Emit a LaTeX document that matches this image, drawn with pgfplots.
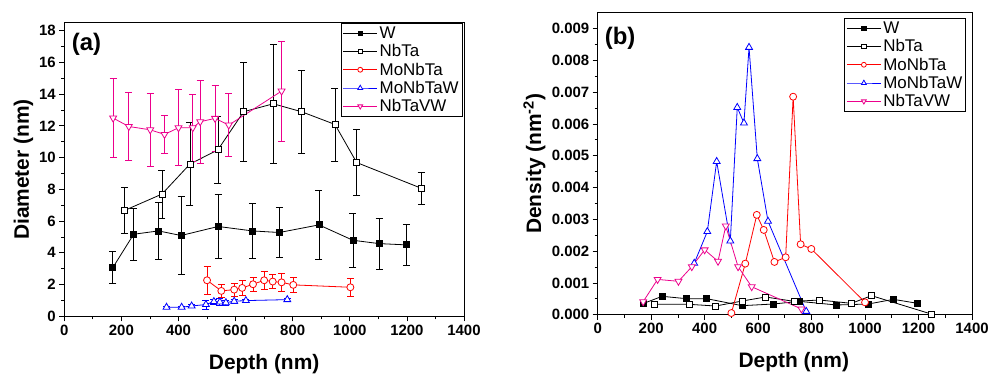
\documentclass[border=0pt]{standalone}
\usepackage{fontspec}
\setmainfont{Liberation Sans}
\usepackage{pgfplots}
\pgfplotsset{compat=1.18}
\pgfplotsset{
 common/.style={
  scale only axis,
  axis line style={line width=0.9bp},
  tick align=outside,
  xtick pos=bottom, ytick pos=left,
  major tick length=5bp, minor tick length=3bp,
  every tick/.style={black, line width=0.8bp},
  minor x tick num=1, minor y tick num=1,
  xmin=0, xmax=1400, xtick={0,200,...,1400},
  xticklabel style={/pgf/number format/set thousands separator={}},
  tick label style={font=\fontsize{15}{15}\selectfont\bfseries},
  /pgf/number format/assume math mode=true,
  label style={font=\fontsize{21}{21}\selectfont\bfseries},
  legend style={font=\fontsize{17}{19.5}\selectfont, draw=black, line width=1bp, inner sep=1.5bp, row sep=0.5bp, cells={anchor=west}},
  legend cell align=left,
  legend image code/.code={\draw[mark repeat=2,mark phase=2,#1, every mark/.append style={scale=0.7}] plot coordinates {(0cm,0cm) (0.6cm,0cm) (1.2cm,0cm)};},
 },
 sW/.style={black, line width=0.8bp, mark=square*, mark size=3bp, mark options={solid, fill=black}},
 sNbTa/.style={black, line width=0.8bp, mark=square*, mark size=3bp, mark options={solid, fill=white}},
 sMoNbTa/.style={red, line width=0.8bp, mark=*, mark size=3.5bp, mark options={solid, fill=white}},
 sMoNbTaW/.style={blue, line width=0.8bp, mark=triangle*, mark size=4bp, mark options={solid, fill=white}},
 sNbTaVW/.style={magenta, line width=0.8bp, mark=triangle*, mark size=4bp, mark options={solid, fill=white, rotate=180}},
 eb/.style={error bars/.cd, y dir=both, y explicit, error mark options={rotate=90, mark size=3.5bp, line width=0.8bp}, error bar style={line width=0.8bp}},
}
\begin{document}
\begin{tikzpicture}
\useasboundingbox (0,0) rectangle (997bp,374bp);
% ---------------- (a) ----------------
\begin{axis}[common,
  at={(64.3bp,57.7bp)}, anchor=south west,
  width=399.7bp, height=293.6bp,
  ymin=0, ymax=18.5, ytick={0,2,...,18},
  xlabel={Depth (nm)}, ylabel={Diameter (nm)},
  xlabel style={at={(axis description cs:0.5,-0.18)}, anchor=base},
  ylabel style={at={(axis description cs:-0.102,0.5)}, anchor=center},
  legend style={at={(0.9967,0.999)}, anchor=north east},
]
\addplot[sW, eb] coordinates {
 (170,3.07) +- (0,1.0)
 (243,5.17) +- (0,1.65)
 (330,5.38) +- (0,1.8)
 (409,5.09) +- (0,2.45)
 (539,5.66) +- (0,2.0)
 (659,5.38) +- (0,1.75)
 (753,5.28) +- (0,1.6)
 (892,5.76) +- (0,2.15)
 (1011,4.79) +- (0,1.7)
 (1103,4.58) +- (0,1.6)
 (1198,4.50) +- (0,1.3)
};
\addlegendentry{W}
\addplot[sNbTa, eb] coordinates {
 (211,6.67) +- (0,1.43)
 (342,7.70) +- (0,1.5)
 (440,9.59) +- (0,2.6)
 (538,10.49) +- (0,2.1)
 (628,12.89) +- (0,3.1)
 (732,13.39) +- (0,3.75)
 (831,12.89) +- (0,2.6)
 (948,12.09) +- (0,2.3)
 (1024,9.69) +- (0,2.1)
 (1250,8.07) +- (0,1.0)
};
\addlegendentry{NbTa}
\addplot[sMoNbTa, eb] coordinates {
 (500,2.27) +- (0,0.87)
 (550,1.60) +- (0,0.41)
 (595,1.68) +- (0,0.40)
 (623,1.79) +- (0,0.47)
 (661,2.02) +- (0,0.42)
 (700,2.27) +- (0,0.58)
 (730,2.19) +- (0,0.45)
 (761,2.14) +- (0,0.55)
 (802,1.98) +- (0,0.50)
 (1002,1.83) +- (0,0.58)
};
\addlegendentry{MoNbTa}
\addplot[sMoNbTaW, eb] coordinates {
 (358,0.57) +- (0,0.08)
 (411,0.57) +- (0,0.08)
 (446,0.65) +- (0,0.12)
 (496,0.74) +- (0,0.28)
 (524,0.93) +- (0,0.15)
 (545,0.90) +- (0,0.22)
 (566,0.86) +- (0,0.15)
 (595,0.95) +- (0,0.12)
 (636,0.99) +- (0,0.10)
 (781,1.05) +- (0,0.08)
};
\addlegendentry{MoNbTaW}
\addplot[sNbTaVW, eb] coordinates {
 (171,12.49) +- (0,2.5)
 (226,11.96) +- (0,2.15)
 (301,11.75) +- (0,2.3)
 (351,11.46) +- (0,1.2)
 (400,11.88) +- (0,2.4)
 (450,11.88) +- (0,2.1)
 (476,12.26) +- (0,2.6)
 (528,12.47) +- (0,2.1)
 (576,12.05) +- (0,2.0)
 (761,14.19) +- (0,3.15)
};
\addlegendentry{NbTaVW}
\node[anchor=north west, inner sep=0pt, font=\fontsize{24}{24}\selectfont\bfseries] at (rel axis cs:0.0185,0.965) {(a)};
\end{axis}
% ---------------- (b) ----------------
\begin{axis}[common,
  at={(597.7bp,59.3bp)}, anchor=south west,
  width=374.3bp, height=302bp,
  ymin=0, ymax=0.0095,
  ytick={0,0.001,0.002,0.003,0.004,0.005,0.006,0.007,0.008,0.009},
  scaled y ticks=false,
  yticklabel style={/pgf/number format/.cd, fixed, fixed zerofill, precision=3},
  xlabel={Depth (nm)}, ylabel={Density (nm\textsuperscript{-2})},
  xlabel style={at={(axis description cs:0.524,-0.174)}, anchor=base},
  ylabel style={at={(axis description cs:-0.169,0.5)}, anchor=center},
  legend style={at={(0.9848,0.9825)}, anchor=north east},
]
\addplot[sW] coordinates {
 (172,0.000357) (241,0.000578) (332,0.000504) (408,0.000504) (540,0.000284)
 (657,0.000336) (754,0.000420) (893,0.000305) (1012,0.000336) (1106,0.000483) (1197,0.000357)
};
\addlegendentry{W}
\addplot[sNbTa] coordinates {
 (213,0.000326) (343,0.000326) (441,0.000273) (540,0.000430) (628,0.000557)
 (734,0.000420) (830,0.000462) (949,0.000357) (1024,0.000599) (1248,0.000020)
};
\addlegendentry{NbTa}
\addplot[sMoNbTa] coordinates {
 (500,0.0000525) (552,0.001607) (595,0.00314) (621,0.002667) (661,0.00166)
 (703,0.001806) (731,0.006858) (759,0.002216) (799,0.002069) (1000,0.000389)
};
\addlegendentry{MoNbTa}
\addplot[sMoNbTaW] coordinates {
 (361,0.001617) (410,0.002615) (445,0.00482) (496,0.00232) (522,0.00652)
 (547,0.00603) (566,0.00841) (597,0.00491) (637,0.00294) (780,0.000105)
};
\addlegendentry{MoNbTaW}
\addplot[sNbTaVW] coordinates {
 (170,0.00041) (224,0.00111) (302,0.00105) (352,0.00151) (400,0.00204)
 (450,0.00168) (479,0.00279) (525,0.00151) (576,0.00088) (762,0.00018)
};
\addlegendentry{NbTaVW}
\node[anchor=north west, inner sep=0pt, font=\fontsize{24}{24}\selectfont\bfseries] at (rel axis cs:0.0187,0.952) {(b)};
\end{axis}
\end{tikzpicture}
\end{document}
